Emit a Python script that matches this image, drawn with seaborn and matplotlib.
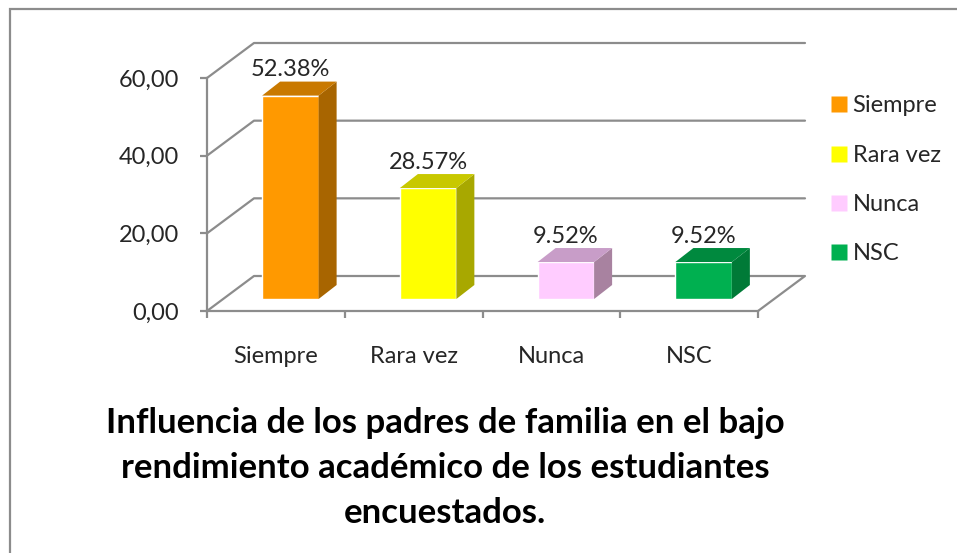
import matplotlib

matplotlib.use("Agg")
import matplotlib.pyplot as plt
import numpy as np
import pandas as pd
import seaborn as sns
from matplotlib.lines import Line2D
from matplotlib.patches import Polygon, Rectangle

categories = ["Siempre", "Rara vez", "Nunca", "NSC"]
percentages = [52.38, 28.57, 9.52, 9.52]
value_labels = ["52.38%", "28.57%", "9.52%", "9.52%"]
yticks = [0, 20, 40, 60]
ytick_labels = ["0,00", "20,00", "40,00", "60,00"]
title_lines = [
    "Influencia de los padres de familia en el bajo",
    "rendimiento académico de los estudiantes",
    "encuestados.",
]

front_colors = ["#FF9900", "#FFFF00", "#FFCCFF", "#00B050"]
side_colors = ["#A86500", "#A8A800", "#A882A0", "#007A37"]
top_colors = ["#C97900", "#C8C800", "#C89DC8", "#00893E"]

W, H = 957, 553
GRID = "#8C8C8C"
FONT = "Lato"
FS = 17

sns.set_style("white")
plt.rcParams["font.family"] = [FONT, "DejaVu Sans"]

df = pd.DataFrame({"categoria": categories, "porcentaje": percentages})

fig = plt.figure(figsize=(W / 100, H / 100), dpi=100)
fig.patch.set_facecolor("white")


def px_box(left, top, right, bottom):
    # image pixel box -> figure fraction rect
    return [left / W, (H - bottom) / H, (right - left) / W, (bottom - top) / H]


def to_fig(pts):
    return [(x / W, y / H) for x, y in pts]


# front plane (axis lines, ticks) and the mid-depth plane where the bars sit
ax = fig.add_axes(px_box(207, 78, 758, 311))
ax_bar = fig.add_axes(px_box(207 + 14.5, 78 - 12, 758 + 14.5, 311 - 12))
for a in (ax, ax_bar):
    a.set_facecolor("none")
    a.set_xlim(-0.5, len(categories) - 0.5)
    a.set_ylim(0, 60)

sns.barplot(data=df, x="categoria", y="porcentaje", hue="categoria",
            palette=front_colors, legend=False, width=0.41, saturation=1,
            ax=ax_bar)
ax_bar.set_xlim(-0.5, len(categories) - 0.5)
ax_bar.set_ylim(0, 60)
ax_bar.axis("off")

# axis styling on the front plane
for side in ("top", "right"):
    ax.spines[side].set_visible(False)
for side in ("left", "bottom"):
    ax.spines[side].set_color(GRID)
    ax.spines[side].set_linewidth(1.6)
ax.set_yticks(yticks)
ax.set_yticklabels(ytick_labels, fontsize=FS)
ax.set_xticks(range(len(categories)))
ax.set_xticklabels(categories, fontsize=FS)
ax.set_xticks(np.arange(-0.5, len(categories)), minor=True)
ax.tick_params(axis="y", length=5, width=1.6, color=GRID, pad=15, left=True)
ax.tick_params(axis="x", which="major", length=0, pad=25)
ax.tick_params(axis="x", which="minor", length=5, width=1.6, color=GRID,
               bottom=True)
ax.set_xlabel("")
ax.set_ylabel("")

# back wall, left wall and floor of the 3D box
DX, DY = 47, 35
x0_disp = ax.transData.transform((-0.5, 0))[0]
x1_disp = ax.transData.transform((len(categories) - 0.5, 0))[0]
for v in yticks:
    yv = ax.transData.transform((0, v))[1]
    pts = [(x0_disp, yv), (x0_disp + DX, yv + DY), (x1_disp + DX, yv + DY)]
    if v == 0:
        pts.append((x1_disp, yv))
    xs, ys = zip(*to_fig(pts))
    fig.add_artist(Line2D(xs, ys, color=GRID, lw=1.6, zorder=-1,
                          transform=fig.transFigure))

# side and top faces of the bars, taken from the seaborn patches
BDX, BDY = 18, 14
for i, bar in enumerate(ax_bar.patches):
    (bx0, by0), (bx1, by1) = ax_bar.transData.transform(
        [(bar.get_x(), bar.get_y()),
         (bar.get_x() + bar.get_width(), bar.get_y() + bar.get_height())])
    side = [(bx1, by0), (bx1 + BDX, by0 + BDY), (bx1 + BDX, by1 + BDY), (bx1, by1)]
    top = [(bx0, by1), (bx0 + BDX, by1 + BDY), (bx1 + BDX, by1 + BDY), (bx1, by1)]
    fig.add_artist(Polygon(to_fig(side), closed=True, facecolor=side_colors[i],
                           edgecolor="none", transform=fig.transFigure, zorder=3))
    fig.add_artist(Polygon(to_fig(top), closed=True, facecolor=top_colors[i],
                           edgecolor="none", transform=fig.transFigure, zorder=3))
    ax_bar.annotate(value_labels[i], (bar.get_x() + bar.get_width() / 2, bar.get_height()),
                    xytext=(0, 11), textcoords="offset points", ha="center",
                    va="bottom", fontsize=FS, annotation_clip=False)

# legend
handles = [Line2D([], [], marker="s", linestyle="none", markersize=11,
                  markerfacecolor=c, markeredgecolor="none") for c in front_colors]
fig.legend(handles, categories, loc="upper left", bbox_to_anchor=(822 / W, 1 - 86 / H),
           frameon=False, fontsize=FS, handlelength=0.6, handletextpad=0.3,
           labelspacing=1.2, borderaxespad=0)

# title below the chart
for k, line in enumerate(title_lines):
    fig.text(445 / W, 1 - (433 + 45 * k) / H, line, ha="center", va="baseline",
             fontsize=25, fontweight="bold", color="black")

# outer chart frame, running past the right and bottom edges
fig.add_artist(Rectangle((10 / W, -0.1), 1.1, 1.1 - 9 / H, fill=False,
                         edgecolor=GRID, lw=1.6, transform=fig.transFigure,
                         zorder=-1))

fig.savefig("out.png", dpi=100)
